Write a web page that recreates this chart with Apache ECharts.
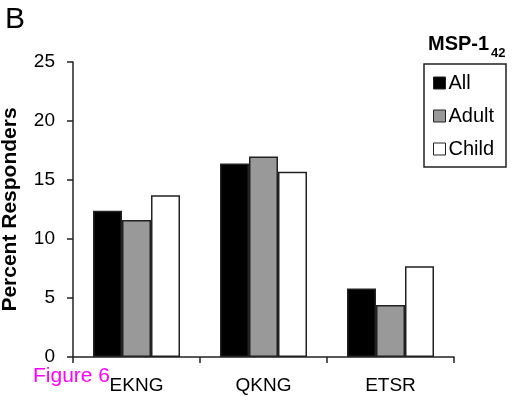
<!DOCTYPE html>
<html><head><meta charset="utf-8">
<script src="https://cdn.jsdelivr.net/npm/echarts@6/dist/echarts.min.js"></script>
<style>html,body{margin:0;padding:0;background:#fff}#c{width:515px;height:396px}</style>
</head><body><div id="c"></div>
<script>
const categories = ['EKNG', 'QKNG', 'ETSR'];
const seriesNames = ['All', 'Adult', 'Child'];
const allValues = [12.4, 16.4, 5.8];
const adultValues = [11.6, 17.0, 4.4];
const childValues = [13.7, 15.7, 7.7];
const yTicks = [0, 5, 10, 15, 20, 25];

const font = 'Liberation Sans, Arial, sans-serif';
const colors = ['#000000', '#999999', '#ffffff'];
const values = [allValues, adultValues, childValues];

const chart = echarts.init(document.getElementById('c'), null, {renderer: 'canvas'});
chart.setOption({
  animation: false,
  backgroundColor: '#fff',
  grid: {left: 73, right: 61, top: 62, bottom: 39, containLabel: false, outerBoundsMode: 'none'},
  legend: {
    orient: 'vertical', left: 428, top: 68,
    itemWidth: 12, itemHeight: 12, itemGap: 13,
    icon: 'rect',
    data: seriesNames,
    textStyle: {fontFamily: font, fontSize: 20, color: '#000', padding: [0, 0, 0, -2]},
    itemStyle: {borderColor: '#222', borderWidth: 1}
  },
  xAxis: {
    type: 'category', data: categories,
    axisLine: {lineStyle: {color: '#222', width: 1.5}},
    axisTick: {show: true, length: 6, lineStyle: {color: '#222', width: 1.5}},
    axisLabel: {fontFamily: font, fontSize: 19, color: '#000', margin: 19}
  },
  yAxis: {
    type: 'value', min: yTicks[0], max: yTicks[yTicks.length - 1], interval: 5,
    name: 'Percent Responders', nameLocation: 'middle', nameGap: 52,
    nameTextStyle: {fontFamily: font, fontSize: 21, fontWeight: 'bold', color: '#000'},
    axisLine: {show: true, lineStyle: {color: '#222', width: 1.5}},
    axisTick: {show: true, length: 6, lineStyle: {color: '#222', width: 1.5}},
    axisLabel: {fontFamily: font, fontSize: 19, color: '#000', margin: 18},
    splitLine: {show: false}
  },
  series: seriesNames.map((n, i) => ({
    name: n, type: 'bar', data: values[i],
    barWidth: 29, barGap: '0%',
    itemStyle: {color: colors[i], borderColor: '#222', borderWidth: 1.5}
  })),
  graphic: [
    {type: 'text', left: 5, top: 5, style: {text: 'B', font: '30px ' + font, fill: '#000'}},
    {type: 'text', left: 33, top: 366, style: {text: 'Figure 6', font: '21px ' + font, fill: '#ff00ff'}},
    {type: 'text', left: 428, top: 34, style: {text: 'MSP-1', font: 'bold 20px ' + font, fill: '#000'}},
    {type: 'text', left: 491, top: 47, style: {text: '42', font: 'bold 13px ' + font, fill: '#000'}},
    {type: 'rect', shape: {x: 424, y: 64, width: 82, height: 103}, style: {fill: 'none', stroke: '#222', lineWidth: 1.5}}
  ]
});
</script></body></html>
